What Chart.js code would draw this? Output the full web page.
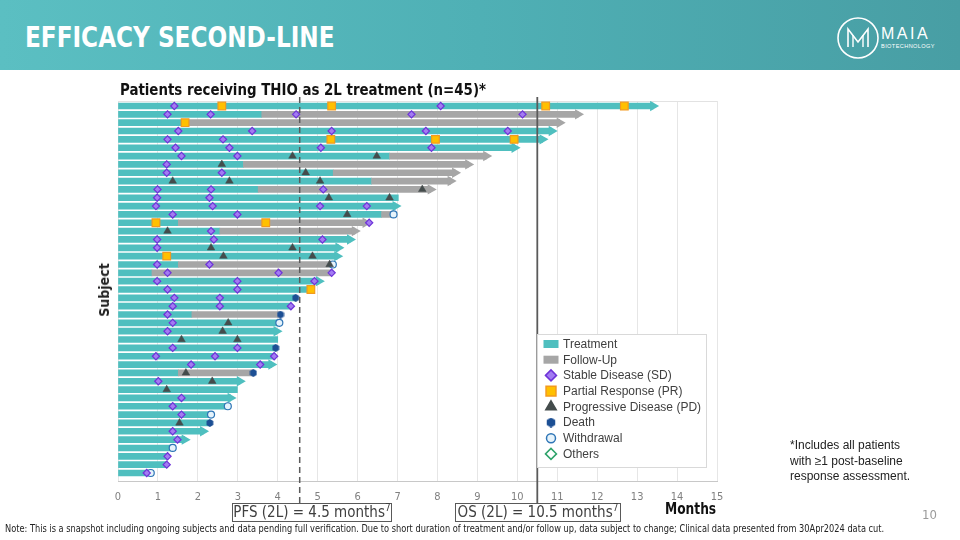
<!DOCTYPE html>
<html>
<head>
<meta charset="utf-8">
<script src="https://cdn.jsdelivr.net/npm/chart.js@4.4.1/dist/chart.umd.min.js"></script>
<style>
  html, body { margin: 0; padding: 0; background: #fff; }
  #page { position: relative; width: 960px; height: 540px; overflow: hidden; font-family: "Liberation Sans Narrow", "DejaVu Sans Condensed", sans-serif; }
  #hdr { position: absolute; left: 0; top: 0; width: 960px; height: 70px;
         background: linear-gradient(90deg, #5bbfc2 0%, #4fb0b5 50%, #489ea4 100%); }
  #hdr h1 { position: absolute; left: 25px; top: 24px; margin: 0; font-size: 28px; line-height: 28px;
            color: #fff; font-weight: bold; transform: scaleX(0.92); transform-origin: 0 50%; }
  #logo { position: absolute; left: 834px; top: 15px; }
  #chart { position: absolute; left: 0; top: 0; }
  .txt { position: absolute; white-space: nowrap; }
  #ctitle { left: 120px; top: 80px; font-size: 16.5px; line-height: 20px; font-weight: bold; color: #111;
            transform: scaleX(0.9); transform-origin: 0 50%; }
  #subj { top: 290px; font-size: 14px; font-weight: bold; color: #222; transform: translate(-50%, -50%) rotate(-90deg); left: 104px; }
  .refbox { top: 503px; height: 17px; border: 1.5px solid #595959; font-size: 15px; line-height: 17px;
            color: #404040; text-align: center; background: #fff; }
  #pfs { left: 232px; width: 158px; }
  #os { left: 455px; width: 164px; }
  #months { left: 665px; top: 499px; font-size: 16px; font-weight: bold; color: #111; transform: scaleX(0.85); transform-origin: 0 50%; }
  #pg { left: 922px; top: 507px; font-size: 13px; color: #9a9a9a; }
  #note { left: 5px; top: 523px; font-size: 9.6px; color: #222; transform: scaleX(0.955); transform-origin: 0 50%; }
  #incl { left: 790px; top: 438px; font-family: "Liberation Sans", sans-serif; font-size: 12px; line-height: 15.5px; color: #222; }
</style>
</head>
<body>
<div id="page">
  <canvas id="chart" width="960" height="540"></canvas>
  <div id="hdr">
    <h1>EFFICACY SECOND-LINE</h1>
    <svg id="logo" width="110" height="46" viewBox="0 0 110 46">
      <circle cx="24" cy="23" r="20" fill="none" stroke="#fff" stroke-width="1.6"/>
      <path d="M14 32 V14 L24 27 L34 14 V32" fill="none" stroke="#fff" stroke-width="1.6"/>
      <path d="M19 20 V32 M29 20 V32" fill="none" stroke="#fff" stroke-width="1.4"/>
      <text x="47" y="24" fill="#fff" font-family="Liberation Sans, sans-serif" font-size="16" letter-spacing="2.5">MAIA</text>
      <text x="47" y="33" fill="#fff" font-family="Liberation Sans, sans-serif" font-size="5.6" letter-spacing="0.4">BIOTECHNOLOGY</text>
    </svg>
  </div>
  <div class="txt" id="ctitle">Patients receiving THIO as 2L treatment (n=45)*</div>
  <div class="txt" id="subj">Subject</div>
  <div class="txt refbox" id="pfs">PFS (2L) = 4.5 months<sup style="font-size:10px;line-height:0">7</sup></div>
  <div class="txt refbox" id="os">OS (2L) = 10.5 months<sup style="font-size:10px;line-height:0">7</sup></div>
  <div class="txt" id="months">Months</div>
  <div class="txt" id="pg">10</div>
  <div class="txt" id="incl">*Includes all patients<br>with ≥1 post-baseline<br>response assessment.</div>
  <div class="txt" id="note">Note: This is a snapshot including ongoing subjects and data pending full verification. Due to short duration of treatment and/or follow up, data subject to change; Clinical data presented from 30Apr2024 data cut.</div>
</div>
<script>
// ---- data (months), row 0 = top subject ----
const treatEnd = [13.4, 3.6, 1.68, 10.86, 10.63, 9.93, 6.8, 3.14, 5.39, 6.35,
                  3.51, 7.02, 6.95, 6.6, 1.51, 2.55, 5.81, 5.52, 5.49, 1.51,
                  0.85, 5.03, 4.83, 4.45, 4.35, 1.85, 4.04, 3.97, 4.0, 3.95,
                  3.93, 3.84, 1.51, 3.05, 2.99, 2.82, 2.75, 2.33, 2.3, 2.13,
                  1.67, 1.37, 1.24, 1.22, 0.8];
const followEnd = [null, 11.52, 11.06, null, null, null, 9.22, 8.77, 8.44, 8.33,
                   7.83, null, null, 6.9, 6.2, 5.93, null, null, null, 5.38,
                   5.35, null, null, null, null, 4.07, null, null, null, null,
                   null, null, 3.39, null, null, null, null, null, null, null,
                   null, null, null, null, null];
const ongoingRows = [0, 1, 2, 3, 4, 5, 6, 7, 8, 9, 10, 12, 14, 15, 16, 17, 18, 21, 27, 31, 33, 35, 39, 40];

const sdPts = [[0,1.41],[0,8.08],[1,1.24],[1,2.32],[1,4.46],[1,7.35],[1,10.13],
  [3,1.51],[3,3.36],[3,5.35],[3,7.71],[3,9.76],[4,1.24],[4,2.63],
  [5,1.44],[5,2.79],[5,5.08],[5,7.85],[6,1.59],[6,2.99],[7,1.22],[8,1.22],[8,2.6],
  [10,0.99],[10,2.33],[10,5.14],[11,0.98],[11,2.29],[12,0.95],[12,2.37],[12,5.06],[12,6.23],
  [13,1.37],[13,2.99],[14,6.29],[15,2.33],[16,0.98],[16,2.4],[16,5.12],[17,0.98],
  [19,0.98],[19,2.29],[20,1.24],[20,4.02],[20,5.35],[21,0.98],[21,2.99],[21,4.92],
  [22,1.24],[22,2.99],[23,1.41],[23,2.55],[24,1.37],[24,2.55],[24,4.33],[25,1.24],
  [26,1.37],[27,1.24],[29,1.37],[29,2.99],[30,0.95],[30,2.43],[30,3.91],[31,1.83],[31,3.56],
  [33,1.01],[35,1.59],[36,1.37],[37,1.59],[39,1.37],[40,1.49],[42,1.24],[43,1.22],[44,0.72]];
const prPts = [[0,2.6],[0,5.35],[0,10.71],[0,12.68],[2,1.68],[4,5.33],[4,7.95],[4,9.92],
  [14,0.95],[14,3.7],[18,1.22],[22,4.83]];
const pdPts = [[6,4.37],[6,6.48],[7,2.6],[8,4.7],[9,1.37],[9,2.79],[9,5.06],[10,7.62],
  [11,5.28],[11,6.8],[13,5.74],[15,1.24],[17,2.33],[17,4.37],[18,2.64],[18,4.87],[19,5.3],
  [26,2.76],[27,2.62],[28,1.59],[28,2.99],[32,1.7],[33,2.36],[34,1.22],[38,1.54]];
const deathPts = [[23,4.45],[25,4.07],[29,3.95],[32,3.39],[38,2.3]];
const withdrawPts = [[13,6.9],[19,5.38],[26,4.04],[36,2.75],[37,2.33],[41,1.37],[44,0.82]];
const otherPts = [];

const pfsMonths = 4.55;
const osMonths = 10.5;
const xTicks = [0, 1, 2, 3, 4, 5, 6, 7, 8, 9, 10, 11, 12, 13, 14, 15];

// ---- styles ----
const TEAL = '#4fbfbf';
const GREY = '#a6a6a6';
const SD_FILL = '#a27cf2', SD_LINE = '#6f34d8';
const PR_FILL = '#ffc000', PR_LINE = '#f39a1e';
const PD_COL = '#444c4c';
const DEATH_COL = '#1c4f94';
const WD_FILL = '#e6f3fb', WD_LINE = '#2e75b6';
const OTH_LINE = '#2fa36b';

function hexagon(size, color) {
  const c = document.createElement('canvas');
  c.width = size; c.height = size;
  const g = c.getContext('2d');
  const r = size / 2;
  g.beginPath();
  for (let k = 0; k < 6; k++) {
    const a = Math.PI / 6 + k * Math.PI / 3;
    const px = r + r * 0.98 * Math.cos(a), py = r + r * 0.98 * Math.sin(a);
    k ? g.lineTo(px, py) : g.moveTo(px, py);
  }
  g.closePath();
  g.fillStyle = color;
  g.fill();
  return c;
}
const hexImg = hexagon(8, DEATH_COL);
const hexLegend = hexagon(10, DEATH_COL);

const toXY = pts => pts.map(p => ({ x: p[1], y: p[0] }));

const treatData = treatEnd.map((e, i) => ({ x: [0, e], y: i }));
const followData = [];
followEnd.forEach((e, i) => { if (e !== null) followData.push({ x: [treatEnd[i], e], y: i }); });
const arrowData = ongoingRows.map(i => ({ x: followEnd[i] !== null ? followEnd[i] : treatEnd[i], y: i }));
const arrowColors = ongoingRows.map(i => followEnd[i] !== null ? GREY : TEAL);

const markerBase = { type: 'scatter', borderWidth: 1.2, pointHoverRadius: 0 };

const refLines = {
  id: 'refLines',
  afterDatasetsDraw(chart) {
    const { ctx, chartArea, scales } = chart;
    ctx.save();
    ctx.strokeStyle = '#5a5a5a';
    const xp = scales.x.getPixelForValue(pfsMonths);
    ctx.lineWidth = 1.5;
    ctx.setLineDash([6, 4]);
    ctx.beginPath(); ctx.moveTo(xp, chartArea.top - 4); ctx.lineTo(xp, 506); ctx.stroke();
    const xo = scales.x.getPixelForValue(osMonths);
    ctx.setLineDash([]);
    ctx.lineWidth = 1.8;
    ctx.beginPath(); ctx.moveTo(xo, chartArea.top - 4); ctx.lineTo(xo, 503); ctx.stroke();
    ctx.restore();
  }
};

const frame = {
  id: 'frame',
  beforeDatasetsDraw(chart) {
    const { ctx, chartArea } = chart;
    ctx.save();
    ctx.strokeStyle = '#e2e2e2';
    ctx.lineWidth = 1;
    ctx.beginPath();
    ctx.moveTo(chartArea.left, chartArea.top + 0.5);
    ctx.lineTo(chartArea.right, chartArea.top + 0.5);
    ctx.stroke();
    ctx.restore();
  }
};

const legendItems = [
  { label: 'Treatment', box: TEAL },
  { label: 'Follow-Up', box: GREY },
  { label: 'Stable Disease (SD)', style: 'rectRot', r: 5.5, fill: SD_FILL, line: SD_LINE },
  { label: 'Partial Response (PR)', style: 'rect', r: 7, fill: PR_FILL, line: PR_LINE },
  { label: 'Progressive Disease (PD)', style: 'triangle', r: 6, fill: PD_COL, line: PD_COL },
  { label: 'Death', style: hexLegend, r: 5, fill: DEATH_COL, line: DEATH_COL },
  { label: 'Withdrawal', style: 'circle', r: 4.5, fill: WD_FILL, line: WD_LINE },
  { label: 'Others', style: 'rectRot', r: 5.5, fill: '#fff', line: OTH_LINE }
];

const boxLegend = {
  id: 'boxLegend',
  afterDraw(chart) {
    const { ctx } = chart;
    const x0 = 537, y0 = 334, w = 169, h = 133;
    ctx.save();
    ctx.fillStyle = '#fff';
    ctx.fillRect(x0, y0, w, h);
    ctx.strokeStyle = '#d9d9d9';
    ctx.lineWidth = 1;
    ctx.strokeRect(x0 + 0.5, y0 + 0.5, w, h);
    ctx.font = '12px "Liberation Sans", sans-serif';
    ctx.textBaseline = 'middle';
    legendItems.forEach((it, k) => {
      const cy = 344 + k * 15.7;
      const cx = 551;
      if (it.box) {
        ctx.fillStyle = it.box;
        ctx.fillRect(cx - 7.5, cy - 4, 15, 8);
      } else {
        ctx.fillStyle = it.fill;
        ctx.strokeStyle = it.line;
        ctx.lineWidth = 1.5;
        Chart.helpers.drawPoint(ctx, { pointStyle: it.style, radius: it.r, rotation: 0, borderWidth: 1.5 }, cx, cy);
      }
      ctx.fillStyle = '#404040';
      ctx.fillText(it.label, 563, cy + 0.5);
    });
    ctx.restore();
  }
};

new Chart(document.getElementById('chart'), {
  type: 'bar',
  data: {
    datasets: [
      { ...markerBase, label: 'SD', data: toXY(sdPts), pointStyle: 'rectRot', pointRadius: 3.6,
        backgroundColor: SD_FILL, borderColor: SD_LINE, order: 0 },
      { ...markerBase, label: 'PR', data: toXY(prPts), pointStyle: 'rect', pointRadius: 5.4,
        backgroundColor: PR_FILL, borderColor: PR_LINE, order: 0 },
      { ...markerBase, label: 'PD', data: toXY(pdPts), pointStyle: 'triangle', pointRadius: 4.4,
        backgroundColor: PD_COL, borderColor: PD_COL, borderWidth: 0.5, order: 0 },
      { ...markerBase, label: 'Death', data: toXY(deathPts), pointStyle: hexImg, pointRadius: 4,
        backgroundColor: DEATH_COL, borderColor: DEATH_COL, order: 0 },
      { ...markerBase, label: 'Withdrawal', data: toXY(withdrawPts), pointStyle: 'circle', pointRadius: 3.5,
        backgroundColor: WD_FILL, borderColor: WD_LINE, order: 0 },
      { ...markerBase, label: 'Others', data: toXY(otherPts), pointStyle: 'rectRot', pointRadius: 3.6,
        backgroundColor: '#fff', borderColor: OTH_LINE, order: 0 },
      { type: 'scatter', label: 'arrows', data: arrowData, pointStyle: 'triangle', pointRotation: 90,
        pointRadius: 6, borderWidth: 0, backgroundColor: arrowColors, pointHoverRadius: 0, order: 1 },
      { label: 'Treatment', data: treatData, backgroundColor: TEAL, barThickness: 6, grouped: false, order: 3 },
      { label: 'Follow-Up', data: followData, backgroundColor: GREY, barThickness: 6, grouped: false, order: 2 }
    ]
  },
  options: {
    indexAxis: 'y',
    responsive: false,
    animation: false,
    events: [],
    layout: { padding: { left: 118, right: 243, top: 101, bottom: 39 } },
    plugins: { legend: { display: false }, tooltip: { enabled: false } },
    scales: {
      x: {
        type: 'linear', min: 0, max: 15,
        afterBuildTicks: axis => { axis.ticks = xTicks.map(v => ({ value: v })); },
        afterFit: axis => { axis.height = 20; },
        grid: { color: '#e6e6e6', drawTicks: false },
        border: { display: true, color: '#c8c8c8' },
        ticks: { color: '#808080', padding: 10, font: { family: '"Liberation Sans Narrow", "DejaVu Sans Condensed", sans-serif', size: 11 } }
      },
      y: {
        type: 'linear', reverse: true, min: -0.6, max: 44.96, offset: false,
        display: false
      }
    }
  },
  plugins: [frame, refLines, boxLegend]
});
</script>
</body>
</html>
